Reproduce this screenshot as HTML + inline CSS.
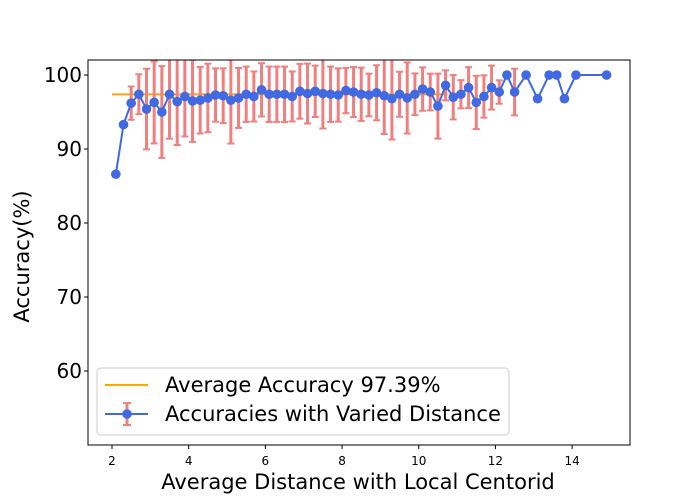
<!DOCTYPE html>
<html><head><meta charset="utf-8"><style>
html,body{margin:0;padding:0;background:#fff;}
svg{display:block;font-family:"DejaVu Sans","Liberation Sans",sans-serif;}
</style></head><body>
<svg id="chart" width="700" height="500"></svg>
<script>
const xs=[2.1,2.3,2.5,2.7,2.9,3.1,3.3,3.5,3.7,3.9,4.1,4.3,4.5,4.7,4.9,5.1,5.3,5.5,5.7,5.9,6.1,6.3,6.5,6.7,6.9,7.1,7.3,7.5,7.7,7.9,8.1,
8.3,8.5,8.7,8.9,9.1,9.3,9.5,9.7,9.9,10.1,10.3,10.5,10.7,10.9,11.1,11.3,11.5,11.7,11.9,12.1,
12.3,12.5,12.8,13.1,13.4,13.6,13.8,14.1,14.9];
const accs=[86.6,93.3,96.2,97.4,95.4,96.3,95.0,97.4,96.4,97.1,96.5,96.6,96.9,97.3,97.2,96.6,96.9,97.4,97.1,98.0,97.4,97.4,97.4,97.1,97.8,97.5,97.8,97.5,97.4,97.3,97.9,
97.7,97.4,97.3,97.6,97.2,96.8,97.4,96.9,97.4,98.1,97.7,95.8,98.6,97.0,97.4,98.3,96.3,97.1,98.3,97.7,
100,97.7,100,96.8,100,100,96.8,100,100];
const errs=[0,0,2.25,2.7,5.45,5.54,6.2,6.0,5.86,5.4,5.54,4.5,4.64,3.6,3.7,5.86,4.05,3.74,3.38,3.6,3.74,3.74,3.74,3.38,3.7,4.05,3.47,4.73,3.74,3.6,3.06,
3.38,3.6,2.88,3.72,5.18,5.52,3.04,4.8,2.82,2.93,2.48,4.39,2.03,3.0,1.91,2.77,3.6,2.86,2.97,1.58,
0,3.15,0,0,0,0,0,0,0];
const avgValue=97.39;
const avgRange=[2.0,10.75];
const xTicks=[2,4,6,8,10,12,14];
const yTicks=[60,70,80,90,100];

const L=88,R=630,T=60,B=445;
const xMin=1.374,xMax=15.51,yMin=50,yMax=102.03;
const sx=v=>L+(v-xMin)/(xMax-xMin)*(R-L);
const sy=v=>B-(v-yMin)/(yMax-yMin)*(B-T);
const svg=document.getElementById('chart');
const NS='http://www.w3.org/2000/svg';
function mk(tag,attrs,parent){const e=document.createElementNS(NS,tag);for(const k in attrs)e.setAttribute(k,attrs[k]);(parent||svg).appendChild(e);return e;}

const defs=mk('defs',{});
const cp=mk('clipPath',{id:'clip'},defs);
mk('rect',{x:L,y:T,width:R-L,height:B-T},cp);
const plot=mk('g',{'clip-path':'url(#clip)'});



const avg=mk('line',{x1:sx(avgRange[0]),x2:sx(avgRange[1]),y1:sy(avgValue),y2:sy(avgValue),stroke:'#FFA500','stroke-width':2},plot);



for(let i=0;i<xs.length;i++){
  if(!errs[i])continue;
  const g=mk('g',{stroke:'#F08080','stroke-width':3},plot);
  
  
  const x=sx(xs[i]),y1=sy(accs[i]+errs[i]),y2=sy(accs[i]-errs[i]);
  mk('line',{x1:x,x2:x,y1:y1,y2:y2},g);
  mk('line',{x1:x-3.5,x2:x+3.5,y1:y1,y2:y1,'stroke-width':2},g);
  mk('line',{x1:x-3.5,x2:x+3.5,y1:y2,y2:y2,'stroke-width':2},g);
}
const pl=mk('polyline',{points:xs.map((x,i)=>sx(x)+','+sy(accs[i])).join(' '),fill:'none',stroke:'#4169E1','stroke-width':2},plot);


for(let i=0;i<xs.length;i++){
  const c=mk('circle',{cx:sx(xs[i]),cy:sy(accs[i]),r:4.8,fill:'#4169E1'},plot);
  
  
}
const fr=mk('rect',{x:L,y:T,width:R-L,height:B-T,fill:'none',stroke:'#000','stroke-width':1});


for(const t of xTicks){
  const x=sx(t);
  mk('line',{x1:x,x2:x,y1:B,y2:B+4,stroke:'#000'});
  const tx=mk('text',{x:x,y:B+20,'font-size':12,'text-anchor':'middle'});
  tx.textContent=t;
  
  
}
for(const t of yTicks){
  const y=sy(t);
  mk('line',{x1:L-4,x2:L,y1:y,y2:y,stroke:'#000'});
  const tx=mk('text',{x:L-6,y:y+7,'font-size':20,'text-anchor':'end'});
  tx.textContent=t;
  
  
}
const xt=mk('text',{x:358,y:489,'font-size':21,'text-anchor':'middle'});
xt.textContent='Average Distance with Local Centorid';


const yt=mk('text',{x:0,y:0,'font-size':21,'text-anchor':'middle',transform:'translate(29,'+((T+B)/2+4)+') rotate(-90)'});
yt.textContent='Accuracy(%)';



const lg=mk('g',{});


mk('rect',{x:97,y:368,width:412,height:67,rx:4,fill:'#fff','fill-opacity':0.8,stroke:'#ccc'},lg);
mk('line',{x1:105,x2:148,y1:385,y2:385,stroke:'#FFA500','stroke-width':2},lg);
const t1=mk('text',{x:165,y:392,'font-size':21},lg);
t1.textContent='Average Accuracy 97.39%';


mk('line',{x1:127,x2:127,y1:403,y2:425,stroke:'#F08080','stroke-width':3},lg);
mk('line',{x1:123,x2:131,y1:403,y2:403,stroke:'#F08080','stroke-width':2},lg);
mk('line',{x1:123,x2:131,y1:425,y2:425,stroke:'#F08080','stroke-width':2},lg);
mk('line',{x1:105,x2:148,y1:414,y2:414,stroke:'#4169E1','stroke-width':2},lg);
mk('circle',{cx:127,cy:414,r:4.8,fill:'#4169E1'},lg);
const t2=mk('text',{x:165,y:421,'font-size':21},lg);
t2.textContent='Accuracies with Varied Distance';


</script>
</body></html>
